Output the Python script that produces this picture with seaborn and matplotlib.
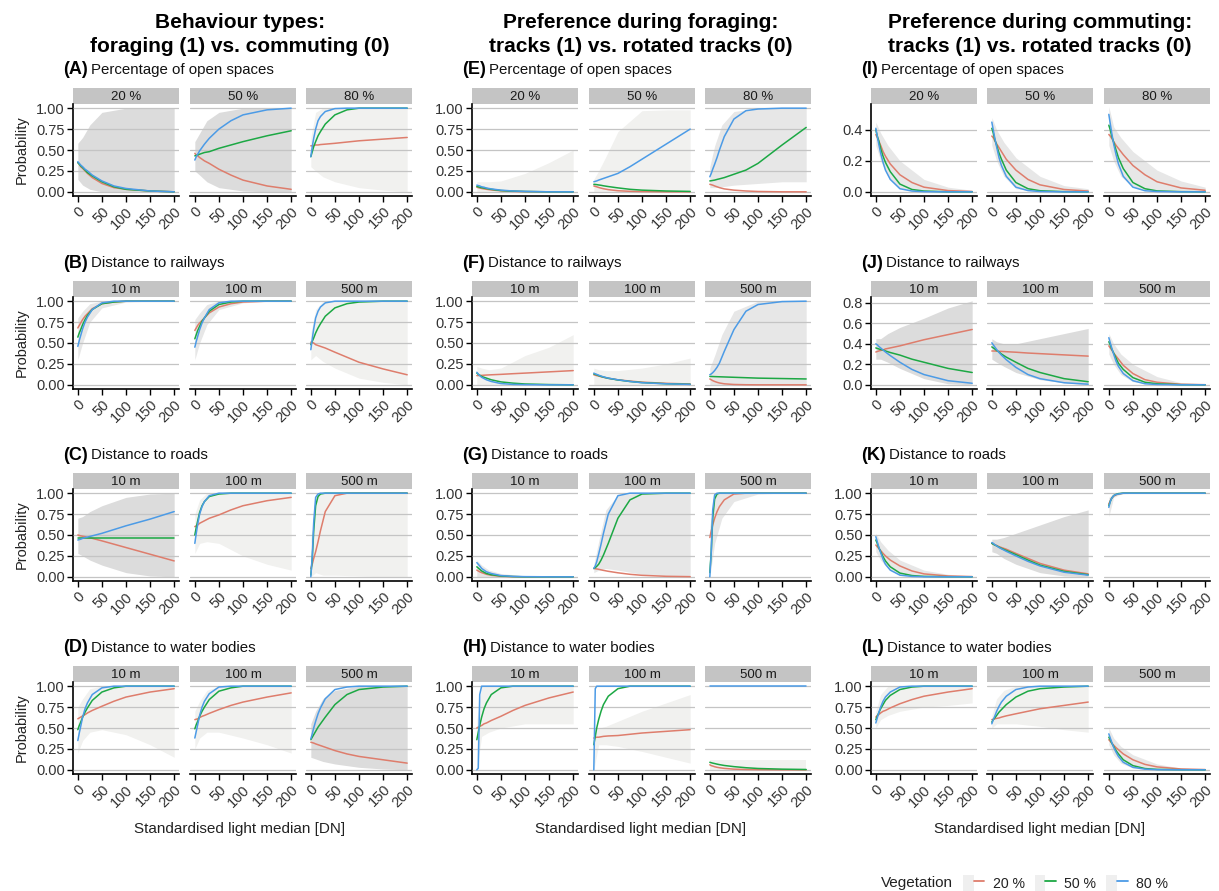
import matplotlib
matplotlib.use("Agg")
import matplotlib.pyplot as plt
from matplotlib.patches import Patch
from matplotlib.lines import Line2D
from matplotlib.legend_handler import HandlerTuple
import pandas as pd
import seaborn as sns

XG = [0, 3, 6, 10, 15, 20, 30, 50, 75, 100, 150, 200]
# x grid for the confidence ribbons
BX = [0, 10, 25, 50, 100, 150, 200]

VEG = ["20 %", "50 %", "80 %"]
PAL = {"20 %": "#DE7D6C", "50 %": "#1CA844", "80 %": "#4C9BE6"}

COL_TITLES = [["Behaviour types:", "foraging (1) vs. commuting (0)"],
              ["Preference during foraging:", "tracks (1) vs. rotated tracks (0)"],
              ["Preference during commuting:", "tracks (1) vs. rotated tracks (0)"]]
ROW_NAMES = ["Percentage of open spaces", "Distance to railways",
             "Distance to roads", "Distance to water bodies"]
FACETS = [["20 %", "50 %", "80 %"], ["10 m", "100 m", "500 m"],
          ["10 m", "100 m", "500 m"], ["10 m", "100 m", "500 m"]]
LETTERS = "ABCDEFGHIJKL"

# each panel: [20 %, 50 %, 80 %] vegetation curves on XG
A1 = [[0.35, 0.33, 0.30, 0.28, 0.25, 0.22, 0.17, 0.10, 0.05, 0.03, 0.01, 0.0],
      [0.35, 0.33, 0.31, 0.29, 0.26, 0.23, 0.19, 0.12, 0.06, 0.03, 0.01, 0.0],
      [0.36, 0.34, 0.32, 0.30, 0.27, 0.25, 0.20, 0.13, 0.07, 0.04, 0.01, 0.0]]
A2 = [[0.46, 0.44, 0.43, 0.41, 0.39, 0.37, 0.34, 0.27, 0.20, 0.14, 0.07, 0.03],
      [0.43, 0.435, 0.44, 0.45, 0.46, 0.47, 0.48, 0.52, 0.56, 0.60, 0.67, 0.73],
      [0.38, 0.42, 0.45, 0.49, 0.53, 0.57, 0.64, 0.75, 0.85, 0.92, 0.98, 1.0]]
A3 = [[0.55, 0.55, 0.555, 0.56, 0.56, 0.565, 0.57, 0.58, 0.595, 0.61, 0.63, 0.65],
      [0.42, 0.48, 0.54, 0.60, 0.67, 0.72, 0.81, 0.92, 0.98, 1.0, 1.0, 1.0],
      [0.42, 0.54, 0.64, 0.75, 0.85, 0.90, 0.96, 0.995, 1.0, 1.0, 1.0, 1.0]]
B1 = [[0.68, 0.71, 0.74, 0.78, 0.82, 0.85, 0.91, 0.97, 0.99, 1.0, 1.0, 1.0],
      [0.57, 0.62, 0.66, 0.72, 0.78, 0.83, 0.90, 0.97, 0.99, 1.0, 1.0, 1.0],
      [0.46, 0.53, 0.59, 0.67, 0.75, 0.81, 0.90, 0.98, 1.0, 1.0, 1.0, 1.0]]
B2 = [[0.65, 0.68, 0.71, 0.74, 0.77, 0.80, 0.86, 0.93, 0.97, 0.99, 1.0, 1.0],
      [0.55, 0.60, 0.65, 0.70, 0.76, 0.80, 0.88, 0.96, 0.99, 1.0, 1.0, 1.0],
      [0.45, 0.52, 0.58, 0.66, 0.74, 0.80, 0.90, 0.98, 1.0, 1.0, 1.0, 1.0]]
B3 = [[0.51, 0.505, 0.50, 0.48, 0.47, 0.46, 0.44, 0.39, 0.33, 0.27, 0.19, 0.12],
      [0.48, 0.52, 0.56, 0.62, 0.68, 0.73, 0.82, 0.92, 0.97, 0.99, 1.0, 1.0],
      [0.42, 0.55, 0.67, 0.80, 0.88, 0.93, 0.98, 1.0, 1.0, 1.0, 1.0, 1.0]]
C1 = [[0.50, 0.495, 0.49, 0.485, 0.48, 0.47, 0.46, 0.43, 0.39, 0.35, 0.27, 0.19],
      [0.47, 0.47, 0.47, 0.47, 0.47, 0.47, 0.47, 0.47, 0.47, 0.47, 0.47, 0.47],
      [0.44, 0.445, 0.45, 0.46, 0.47, 0.475, 0.49, 0.52, 0.565, 0.61, 0.69, 0.78]]
C2 = [[0.60, 0.61, 0.62, 0.64, 0.655, 0.67, 0.70, 0.74, 0.80, 0.85, 0.91, 0.95],
      [0.50, 0.59, 0.67, 0.77, 0.85, 0.90, 0.96, 0.99, 1.0, 1.0, 1.0, 1.0],
      [0.40, 0.52, 0.63, 0.75, 0.84, 0.90, 0.97, 1.0, 1.0, 1.0, 1.0, 1.0]]
C3 = [[0.10, 0.15, 0.22, 0.30, 0.42, 0.55, 0.78, 0.97, 1.0, 1.0, 1.0, 1.0],
      [0.02, 0.22, 0.55, 0.85, 0.96, 0.99, 1.0, 1.0, 1.0, 1.0, 1.0, 1.0],
      [0.0, 0.25, 0.65, 0.95, 0.99, 1.0, 1.0, 1.0, 1.0, 1.0, 1.0, 1.0]]
D1 = [[0.61, 0.62, 0.63, 0.645, 0.66, 0.68, 0.71, 0.76, 0.82, 0.87, 0.93, 0.97],
      [0.48, 0.53, 0.57, 0.63, 0.69, 0.74, 0.83, 0.93, 0.98, 1.0, 1.0, 1.0],
      [0.35, 0.44, 0.52, 0.63, 0.73, 0.80, 0.90, 0.98, 1.0, 1.0, 1.0, 1.0]]
D2 = [[0.60, 0.605, 0.61, 0.625, 0.64, 0.65, 0.675, 0.72, 0.77, 0.81, 0.87, 0.92],
      [0.49, 0.54, 0.58, 0.64, 0.70, 0.75, 0.84, 0.94, 0.98, 1.0, 1.0, 1.0],
      [0.38, 0.46, 0.54, 0.65, 0.75, 0.82, 0.91, 0.99, 1.0, 1.0, 1.0, 1.0]]
D3 = [[0.33, 0.325, 0.32, 0.31, 0.30, 0.29, 0.27, 0.23, 0.19, 0.16, 0.12, 0.08],
      [0.36, 0.39, 0.42, 0.46, 0.51, 0.55, 0.63, 0.78, 0.90, 0.96, 0.99, 1.0],
      [0.37, 0.43, 0.50, 0.58, 0.67, 0.74, 0.85, 0.96, 0.99, 1.0, 1.0, 1.0]]
E1 = [[0.055, 0.05, 0.045, 0.04, 0.035, 0.03, 0.022, 0.012, 0.005, 0.002, 0.0, 0.0],
      [0.065, 0.06, 0.055, 0.05, 0.045, 0.04, 0.03, 0.015, 0.008, 0.004, 0.0, 0.0],
      [0.08, 0.075, 0.07, 0.06, 0.055, 0.045, 0.035, 0.02, 0.01, 0.005, 0.0, 0.0]]
E2 = [[0.07, 0.065, 0.06, 0.052, 0.044, 0.037, 0.026, 0.013, 0.006, 0.003, 0.0, 0.0],
      [0.09, 0.088, 0.086, 0.082, 0.078, 0.072, 0.063, 0.047, 0.03, 0.02, 0.01, 0.005],
      [0.12, 0.125, 0.13, 0.14, 0.15, 0.16, 0.18, 0.22, 0.30, 0.39, 0.57, 0.75]]
E3 = [[0.09, 0.085, 0.08, 0.07, 0.06, 0.05, 0.035, 0.02, 0.01, 0.004, 0.0, 0.0],
      [0.13, 0.133, 0.136, 0.14, 0.148, 0.155, 0.17, 0.21, 0.26, 0.34, 0.56, 0.77],
      [0.18, 0.22, 0.27, 0.33, 0.41, 0.50, 0.66, 0.87, 0.97, 0.99, 1.0, 1.0]]
F1 = [[0.11, 0.111, 0.112, 0.113, 0.115, 0.117, 0.12, 0.125, 0.133, 0.14, 0.155, 0.17],
      [0.14, 0.125, 0.115, 0.10, 0.09, 0.08, 0.06, 0.035, 0.02, 0.01, 0.003, 0.0],
      [0.15, 0.13, 0.11, 0.09, 0.075, 0.06, 0.04, 0.015, 0.005, 0.002, 0.0, 0.0]]
F2 = [[0.12, 0.115, 0.11, 0.105, 0.097, 0.09, 0.078, 0.06, 0.045, 0.032, 0.018, 0.01],
      [0.13, 0.125, 0.12, 0.11, 0.10, 0.092, 0.078, 0.058, 0.04, 0.027, 0.013, 0.006],
      [0.14, 0.13, 0.125, 0.115, 0.105, 0.095, 0.08, 0.06, 0.04, 0.025, 0.012, 0.005]]
F3 = [[0.07, 0.06, 0.05, 0.04, 0.03, 0.022, 0.012, 0.004, 0.001, 0.0, 0.0, 0.0],
      [0.10, 0.10, 0.099, 0.098, 0.097, 0.096, 0.094, 0.09, 0.085, 0.08, 0.075, 0.07],
      [0.12, 0.13, 0.145, 0.17, 0.21, 0.26, 0.40, 0.66, 0.88, 0.96, 0.995, 1.0]]
G1 = [[0.08, 0.07, 0.06, 0.05, 0.04, 0.03, 0.018, 0.006, 0.002, 0.0, 0.0, 0.0],
      [0.12, 0.105, 0.09, 0.07, 0.055, 0.04, 0.025, 0.01, 0.003, 0.0, 0.0, 0.0],
      [0.17, 0.15, 0.13, 0.10, 0.08, 0.06, 0.04, 0.015, 0.005, 0.002, 0.0, 0.0]]
G2 = [[0.10, 0.097, 0.094, 0.09, 0.083, 0.077, 0.066, 0.048, 0.03, 0.018, 0.006, 0.002],
      [0.10, 0.11, 0.125, 0.15, 0.20, 0.26, 0.40, 0.70, 0.92, 0.99, 1.0, 1.0],
      [0.10, 0.13, 0.18, 0.27, 0.39, 0.52, 0.75, 0.97, 1.0, 1.0, 1.0, 1.0]]
G3 = [[0.47, 0.55, 0.62, 0.70, 0.78, 0.84, 0.92, 0.99, 1.0, 1.0, 1.0, 1.0],
      [0.05, 0.30, 0.70, 0.93, 0.99, 1.0, 1.0, 1.0, 1.0, 1.0, 1.0, 1.0],
      [0.0, 0.30, 0.80, 0.98, 1.0, 1.0, 1.0, 1.0, 1.0, 1.0, 1.0, 1.0]]
H1 = [[0.50, 0.51, 0.52, 0.53, 0.55, 0.56, 0.59, 0.64, 0.71, 0.77, 0.86, 0.93],
      [0.36, 0.45, 0.53, 0.63, 0.73, 0.80, 0.90, 0.98, 1.0, 1.0, 1.0, 1.0],
      [0.0, 0.02, 0.90, 1.0, 1.0, 1.0, 1.0, 1.0, 1.0, 1.0, 1.0, 1.0]]
H2 = [[0.38, 0.385, 0.39, 0.39, 0.395, 0.40, 0.405, 0.41, 0.425, 0.44, 0.46, 0.48],
      [0.30, 0.40, 0.50, 0.60, 0.70, 0.78, 0.88, 0.97, 1.0, 1.0, 1.0, 1.0],
      [0.0, 0.97, 1.0, 1.0, 1.0, 1.0, 1.0, 1.0, 1.0, 1.0, 1.0, 1.0]]
H3 = [[0.06, 0.05, 0.045, 0.037, 0.03, 0.025, 0.017, 0.008, 0.004, 0.002, 0.0, 0.0],
      [0.09, 0.085, 0.08, 0.075, 0.068, 0.062, 0.052, 0.038, 0.025, 0.016, 0.008, 0.004],
      [1.0, 1.0, 1.0, 1.0, 1.0, 1.0, 1.0, 1.0, 1.0, 1.0, 1.0, 1.0]]
I1 = [[0.37, 0.35, 0.33, 0.30, 0.26, 0.23, 0.18, 0.11, 0.06, 0.03, 0.008, 0.002],
      [0.40, 0.36, 0.33, 0.28, 0.23, 0.19, 0.13, 0.05, 0.015, 0.005, 0.0, 0.0],
      [0.41, 0.36, 0.31, 0.25, 0.19, 0.14, 0.08, 0.02, 0.005, 0.001, 0.0, 0.0]]
I2 = [[0.36, 0.35, 0.33, 0.31, 0.285, 0.26, 0.21, 0.14, 0.08, 0.045, 0.015, 0.005],
      [0.41, 0.38, 0.34, 0.30, 0.25, 0.21, 0.14, 0.06, 0.02, 0.007, 0.001, 0.0],
      [0.45, 0.40, 0.35, 0.29, 0.22, 0.17, 0.10, 0.03, 0.008, 0.002, 0.0, 0.0]]
I3 = [[0.37, 0.36, 0.345, 0.325, 0.30, 0.28, 0.24, 0.17, 0.11, 0.065, 0.025, 0.01],
      [0.43, 0.40, 0.36, 0.32, 0.27, 0.22, 0.15, 0.06, 0.02, 0.006, 0.001, 0.0],
      [0.50, 0.44, 0.38, 0.31, 0.24, 0.18, 0.10, 0.03, 0.007, 0.002, 0.0, 0.0]]
J1 = [[0.32, 0.325, 0.33, 0.335, 0.34, 0.35, 0.36, 0.38, 0.41, 0.44, 0.49, 0.54],
      [0.36, 0.355, 0.35, 0.345, 0.34, 0.33, 0.315, 0.29, 0.25, 0.22, 0.16, 0.12],
      [0.40, 0.39, 0.375, 0.36, 0.34, 0.32, 0.285, 0.22, 0.15, 0.10, 0.04, 0.015]]
J2 = [[0.33, 0.33, 0.33, 0.328, 0.327, 0.326, 0.323, 0.318, 0.31, 0.304, 0.292, 0.28],
      [0.37, 0.36, 0.35, 0.335, 0.32, 0.30, 0.27, 0.22, 0.16, 0.12, 0.06, 0.03],
      [0.41, 0.39, 0.37, 0.345, 0.315, 0.29, 0.245, 0.17, 0.10, 0.06, 0.02, 0.006]]
J3 = [[0.38, 0.36, 0.34, 0.31, 0.28, 0.25, 0.19, 0.11, 0.05, 0.025, 0.005, 0.001],
      [0.42, 0.39, 0.35, 0.31, 0.26, 0.21, 0.15, 0.07, 0.025, 0.01, 0.001, 0.0],
      [0.46, 0.41, 0.36, 0.30, 0.23, 0.18, 0.11, 0.04, 0.01, 0.003, 0.0, 0.0]]
K1 = [[0.38, 0.36, 0.34, 0.315, 0.28, 0.25, 0.20, 0.13, 0.07, 0.035, 0.01, 0.003],
      [0.44, 0.40, 0.35, 0.30, 0.24, 0.19, 0.12, 0.045, 0.015, 0.005, 0.001, 0.0],
      [0.48, 0.42, 0.36, 0.29, 0.21, 0.15, 0.08, 0.02, 0.005, 0.001, 0.0, 0.0]]
K2 = [[0.40, 0.39, 0.385, 0.375, 0.36, 0.35, 0.33, 0.28, 0.22, 0.16, 0.08, 0.035],
      [0.40, 0.39, 0.38, 0.37, 0.355, 0.34, 0.315, 0.265, 0.20, 0.14, 0.065, 0.025],
      [0.41, 0.40, 0.385, 0.37, 0.35, 0.335, 0.305, 0.25, 0.185, 0.13, 0.055, 0.02]]
K3 = [[0.87, 0.91, 0.94, 0.965, 0.98, 0.99, 1.0, 1.0, 1.0, 1.0, 1.0, 1.0],
      [0.85, 0.90, 0.94, 0.97, 0.985, 0.995, 1.0, 1.0, 1.0, 1.0, 1.0, 1.0],
      [0.83, 0.90, 0.94, 0.97, 0.985, 0.99, 1.0, 1.0, 1.0, 1.0, 1.0, 1.0]]
L1 = [[0.63, 0.65, 0.66, 0.68, 0.70, 0.71, 0.74, 0.79, 0.84, 0.88, 0.93, 0.97],
      [0.60, 0.64, 0.68, 0.73, 0.78, 0.83, 0.89, 0.96, 0.99, 1.0, 1.0, 1.0],
      [0.56, 0.62, 0.68, 0.75, 0.82, 0.87, 0.93, 0.99, 1.0, 1.0, 1.0, 1.0]]
L2 = [[0.60, 0.605, 0.61, 0.615, 0.62, 0.63, 0.645, 0.67, 0.70, 0.73, 0.77, 0.81],
      [0.57, 0.60, 0.62, 0.65, 0.69, 0.72, 0.78, 0.87, 0.94, 0.97, 0.99, 1.0],
      [0.55, 0.60, 0.64, 0.70, 0.76, 0.81, 0.88, 0.96, 0.99, 1.0, 1.0, 1.0]]
L3 = [[0.36, 0.34, 0.32, 0.295, 0.265, 0.24, 0.19, 0.12, 0.065, 0.035, 0.01, 0.003],
      [0.39, 0.36, 0.32, 0.28, 0.23, 0.19, 0.12, 0.05, 0.015, 0.005, 0.001, 0.0],
      [0.43, 0.38, 0.33, 0.27, 0.21, 0.16, 0.09, 0.03, 0.008, 0.002, 0.0, 0.0]]

# confidence ribbons [lower, upper] on BX
A1_ci = [[0.15, 0.08, 0.03, 0.0, 0.0, 0.0, 0.0], [0.58, 0.65, 0.80, 0.95, 1.0, 1.0, 1.0]]
A2_ci = [[0.25, 0.20, 0.12, 0.05, 0.01, 0.0, 0.0], [0.60, 0.70, 0.85, 0.95, 1.0, 1.0, 1.0]]
A3_ci = [[0.30, 0.25, 0.18, 0.12, 0.05, 0.02, 0.0], [0.65, 0.95, 1.0, 1.0, 1.0, 1.0, 1.0]]
B1_ci = [[0.30, 0.50, 0.75, 0.92, 0.99, 1.0, 1.0], [0.80, 0.88, 0.97, 1.0, 1.0, 1.0, 1.0]]
B2_ci = [[0.30, 0.50, 0.72, 0.90, 0.98, 1.0, 1.0], [0.78, 0.86, 0.96, 1.0, 1.0, 1.0, 1.0]]
B3_ci = [[0.30, 0.35, 0.28, 0.20, 0.08, 0.03, 0.0], [0.62, 0.90, 1.0, 1.0, 1.0, 1.0, 1.0]]
C1_ci = [[0.28, 0.25, 0.20, 0.14, 0.05, 0.01, 0.0], [0.70, 0.72, 0.78, 0.85, 0.95, 0.99, 1.0]]
C2_ci = [[0.28, 0.40, 0.42, 0.40, 0.25, 0.15, 0.08], [0.75, 0.92, 1.0, 1.0, 1.0, 1.0, 1.0]]
C3_ci = [[0.0, 0.05, 0.02, 0.02, 0.01, 0.0, 0.0], [0.45, 1.0, 1.0, 1.0, 1.0, 1.0, 1.0]]
D1_ci = [[0.20, 0.35, 0.45, 0.48, 0.42, 0.30, 0.15], [0.75, 0.85, 0.97, 1.0, 1.0, 1.0, 1.0]]
D2_ci = [[0.25, 0.38, 0.45, 0.45, 0.38, 0.30, 0.20], [0.70, 0.82, 0.95, 1.0, 1.0, 1.0, 1.0]]
D3_ci = [[0.15, 0.13, 0.10, 0.07, 0.03, 0.01, 0.0], [0.55, 0.70, 0.85, 0.95, 1.0, 1.0, 1.0]]
E1_ci = [[0.0, 0.0, 0.0, 0.0, 0.0, 0.0, 0.0], [0.12, 0.12, 0.12, 0.13, 0.22, 0.35, 0.50]]
E2_ci = [[0.0, 0.0, 0.0, 0.0, 0.0, 0.0, 0.0], [0.15, 0.25, 0.42, 0.72, 0.97, 0.98, 0.98]]
E3_ci = [[0.05, 0.05, 0.06, 0.08, 0.10, 0.12, 0.12], [0.30, 0.55, 0.80, 0.96, 1.0, 1.0, 1.0]]
F1_ci = [[0.0, 0.0, 0.0, 0.0, 0.0, 0.0, 0.0], [0.22, 0.20, 0.18, 0.20, 0.35, 0.45, 0.60]]
F2_ci = [[0.0, 0.0, 0.0, 0.0, 0.0, 0.0, 0.0], [0.20, 0.18, 0.17, 0.17, 0.20, 0.25, 0.32]]
F3_ci = [[0.0, 0.0, 0.0, 0.0, 0.0, 0.0, 0.0], [0.20, 0.35, 0.60, 0.88, 1.0, 1.0, 1.0]]
G1_ci = [[0.0, 0.0, 0.0, 0.0, 0.0, 0.0, 0.0], [0.20, 0.14, 0.08, 0.04, 0.01, 0.0, 0.0]]
G2_ci = [[0.05, 0.08, 0.10, 0.08, 0.03, 0.01, 0.0], [0.15, 0.42, 0.80, 0.98, 1.0, 1.0, 1.0]]
G3_ci = [[0.0, 0.40, 0.70, 0.90, 0.99, 1.0, 1.0], [0.60, 1.0, 1.0, 1.0, 1.0, 1.0, 1.0]]
H1_ci = [[0.0, 0.40, 0.45, 0.50, 0.55, 0.55, 0.55], [0.60, 1.0, 1.0, 1.0, 1.0, 1.0, 1.0]]
H2_ci = [[0.0, 0.30, 0.30, 0.28, 0.22, 0.15, 0.08], [0.50, 0.50, 0.52, 0.58, 0.70, 0.80, 0.90]]
H3_ci = [[0.0, 0.0, 0.0, 0.0, 0.0, 0.0, 0.0], [0.12, 0.12, 0.12, 0.12, 0.12, 0.12, 0.12]]
I1_ci = [[0.30, 0.20, 0.10, 0.02, 0.0, 0.0, 0.0], [0.45, 0.38, 0.30, 0.20, 0.08, 0.03, 0.01]]
I2_ci = [[0.30, 0.20, 0.10, 0.02, 0.0, 0.0, 0.0], [0.48, 0.40, 0.32, 0.22, 0.10, 0.04, 0.02]]
I3_ci = [[0.30, 0.20, 0.10, 0.03, 0.0, 0.0, 0.0], [0.55, 0.42, 0.35, 0.26, 0.14, 0.07, 0.03]]
J1_ci = [[0.25, 0.25, 0.22, 0.16, 0.06, 0.01, 0.0], [0.45, 0.45, 0.50, 0.56, 0.65, 0.75, 0.82]]
J2_ci = [[0.25, 0.22, 0.18, 0.12, 0.05, 0.02, 0.0], [0.45, 0.42, 0.40, 0.40, 0.45, 0.50, 0.55]]
J3_ci = [[0.30, 0.20, 0.10, 0.03, 0.0, 0.0, 0.0], [0.50, 0.40, 0.30, 0.20, 0.08, 0.02, 0.01]]
K1_ci = [[0.30, 0.20, 0.10, 0.02, 0.0, 0.0, 0.0], [0.52, 0.42, 0.32, 0.20, 0.08, 0.03, 0.01]]
K2_ci = [[0.30, 0.28, 0.22, 0.15, 0.05, 0.01, 0.0], [0.45, 0.45, 0.47, 0.52, 0.62, 0.72, 0.80]]
K3_ci = [[0.72, 0.95, 0.99, 1.0, 1.0, 1.0, 1.0], [0.95, 1.0, 1.0, 1.0, 1.0, 1.0, 1.0]]
L1_ci = [[0.50, 0.60, 0.65, 0.70, 0.75, 0.77, 0.80], [0.70, 0.90, 1.0, 1.0, 1.0, 1.0, 1.0]]
L2_ci = [[0.50, 0.55, 0.55, 0.55, 0.52, 0.48, 0.45], [0.65, 0.85, 0.95, 1.0, 1.0, 1.0, 1.0]]
L3_ci = [[0.30, 0.18, 0.08, 0.02, 0.0, 0.0, 0.0], [0.50, 0.38, 0.28, 0.18, 0.07, 0.02, 0.01]]

CURVES = {"A1": A1, "A2": A2, "A3": A3, "B1": B1, "B2": B2, "B3": B3,
          "C1": C1, "C2": C2, "C3": C3, "D1": D1, "D2": D2, "D3": D3,
          "E1": E1, "E2": E2, "E3": E3, "F1": F1, "F2": F2, "F3": F3,
          "G1": G1, "G2": G2, "G3": G3, "H1": H1, "H2": H2, "H3": H3,
          "I1": I1, "I2": I2, "I3": I3, "J1": J1, "J2": J2, "J3": J3,
          "K1": K1, "K2": K2, "K3": K3, "L1": L1, "L2": L2, "L3": L3}
RIBBONS = {"A1": A1_ci, "A2": A2_ci, "A3": A3_ci, "B1": B1_ci, "B2": B2_ci, "B3": B3_ci,
           "C1": C1_ci, "C2": C2_ci, "C3": C3_ci, "D1": D1_ci, "D2": D2_ci, "D3": D3_ci,
           "E1": E1_ci, "E2": E2_ci, "E3": E3_ci, "F1": F1_ci, "F2": F2_ci, "F3": F3_ci,
           "G1": G1_ci, "G2": G2_ci, "G3": G3_ci, "H1": H1_ci, "H2": H2_ci, "H3": H3_ci,
           "I1": I1_ci, "I2": I2_ci, "I3": I3_ci, "J1": J1_ci, "J2": J2_ci, "J3": J3_ci,
           "K1": K1_ci, "K2": K2_ci, "K3": K3_ci, "L1": L1_ci, "L2": L2_ci, "L3": L3_ci}

# ribbon shade per panel (style only)
DARK_RIBBON = {"A1", "A2", "C1", "D3", "J1", "J2", "K2"}
LIGHT_RIBBON = {"A3", "B3", "C2", "C3", "D1", "D2", "E1", "E2", "F1", "F2",
                "H1", "H2", "H3", "L1", "L2"}

sns.set_theme(style="white")
plt.rcParams["font.family"] = ["Liberation Sans", "DejaVu Sans"]

W, H = 1219, 891
fig = plt.figure(figsize=(W / 100, H / 100), dpi=100)
renderer = fig.canvas.get_renderer()


def px_axes(x, y, w, h):
    return fig.add_axes([x / W, 1 - (y + h) / H, w / W, h / H])


COL_X = [[73, 190, 306], [472, 589, 705], [871, 987, 1104]]
ROW_Y = [104, 297, 489, 682]
PW, PH, SH = 106, 92, 16
COL_CX = [240, 641, 1040]

for c in range(3):
    fig.text(COL_CX[c] / W, 1 - 22 / H, COL_TITLES[c][0], ha="center", va="center",
             fontsize=15, fontweight="bold", color="black")
    fig.text(COL_CX[c] / W, 1 - 46 / H, COL_TITLES[c][1], ha="center", va="center",
             fontsize=15, fontweight="bold", color="black")
    fig.text(COL_CX[c] / W, 1 - 829 / H, "Standardised light median [DN]",
             ha="center", va="center", fontsize=11, color="#222222")

    for r in range(4):
        letter = LETTERS[c * 4 + r]
        hy = ROW_Y[r] - SH - 18
        t = fig.text((COL_X[c][0] - 10) / W, 1 - hy / H, f"({letter})", ha="left",
                     va="center", fontsize=13, fontweight="bold", color="black")
        bb = t.get_window_extent(renderer)
        fig.text((bb.x1 + 3) / W, 1 - hy / H, ROW_NAMES[r], ha="left", va="center",
                 fontsize=10.8, color="#111111")

        if c == 2 and r == 0:
            ylim, yt, ylab = (-0.027, 0.567), [0.0, 0.2, 0.4], ["0.0", "0.2", "0.4"]
        elif c == 2 and r == 1:
            ylim = (-0.041, 0.857)
            yt = [0.0, 0.2, 0.4, 0.6, 0.8]
            ylab = ["0.0", "0.2", "0.4", "0.6", "0.8"]
        else:
            ylim = (-0.05, 1.05)
            yt = [0.0, 0.25, 0.5, 0.75, 1.0]
            ylab = ["0.00", "0.25", "0.50", "0.75", "1.00"]

        for f in range(3):
            key = f"{letter}{f + 1}"
            x0 = COL_X[c][f]

            sax = px_axes(x0, ROW_Y[r] - SH, PW, SH)
            sax.set_facecolor("#C4C4C4")
            sax.set_xticks([])
            sax.set_yticks([])
            for s in sax.spines.values():
                s.set_visible(False)
            sax.text(0.5, 0.45, FACETS[r][f], ha="center", va="center",
                     fontsize=9.5, color="#1a1a1a", transform=sax.transAxes)

            ax = px_axes(x0, ROW_Y[r], PW, PH)
            lo, hi = RIBBONS[key]
            if key in DARK_RIBBON:
                shade = "#dcdcdc"
            elif key in LIGHT_RIBBON:
                shade = "#f1f1ef"
            else:
                shade = "#e7e7e7"
            ax.fill_between(BX, lo, hi, color=shade, lw=0, zorder=1)

            rows = []
            for v, ys in zip(VEG, CURVES[key]):
                for xv, yv in zip(XG, ys):
                    rows.append({"light": xv, "prob": yv, "veg": v})
            df = pd.DataFrame(rows)
            sns.lineplot(data=df, x="light", y="prob", hue="veg", hue_order=VEG,
                         palette=PAL, ax=ax, legend=False, linewidth=1.1,
                         errorbar=None, zorder=3)

            ax.set_xlim(-10, 210)
            ax.set_ylim(*ylim)
            ax.set_xticks([0, 50, 100, 150, 200])
            ax.set_xticklabels(["0", "50", "100", "150", "200"], rotation=45,
                               ha="right", va="top", rotation_mode="anchor")
            ax.set_yticks(yt)
            ax.yaxis.grid(True, color="#c4c4c4", lw=0.9, zorder=2)
            ax.xaxis.grid(False)
            ax.set_axisbelow(False)
            ax.set_xlabel("")
            ax.set_ylabel("")
            ax.set_facecolor("white")
            ax.spines["top"].set_visible(False)
            ax.spines["right"].set_visible(False)
            ax.spines["bottom"].set_color("black")
            ax.spines["bottom"].set_linewidth(1.2)
            ax.tick_params(axis="x", bottom=True, direction="out", length=4, width=1,
                           color="black", labelsize=10.5, labelcolor="#333333", pad=2)
            if f == 0:
                ax.set_yticklabels(ylab)
                ax.spines["left"].set_color("black")
                ax.spines["left"].set_linewidth(1.2)
                ax.tick_params(axis="y", left=True, direction="out", length=4, width=1,
                               color="black", labelsize=10.5, labelcolor="#333333", pad=2)
            else:
                ax.spines["left"].set_visible(False)
                ax.tick_params(axis="y", left=False, labelleft=False)
            for ln in ax.get_lines():
                ln.set_zorder(3)

            if c == 0 and f == 0:
                fig.text(22 / W, 1 - (ROW_Y[r] + PH / 2) / H, "Probability", rotation=90,
                         ha="center", va="center", fontsize=10.5, color="#222222")

# legend
fig.text(881 / W, 1 - 883 / H, "Vegetation", ha="left", va="center",
         fontsize=11, color="#222222")
handles = [(Patch(facecolor="#efefef", edgecolor="none"),
            Line2D([], [], color=PAL[v], lw=1.3)) for v in VEG]
fig.legend(handles, VEG, handler_map={tuple: HandlerTuple(ndivide=None)}, ncol=3,
           loc="center left", bbox_to_anchor=(963 / W, 1 - 883 / H), frameon=False,
           fontsize=10.2, handlelength=1.5, handleheight=1.4, columnspacing=0.7,
           handletextpad=0.6, borderpad=0, borderaxespad=0, labelcolor="#222222")

fig.savefig("out.png", dpi=100)
